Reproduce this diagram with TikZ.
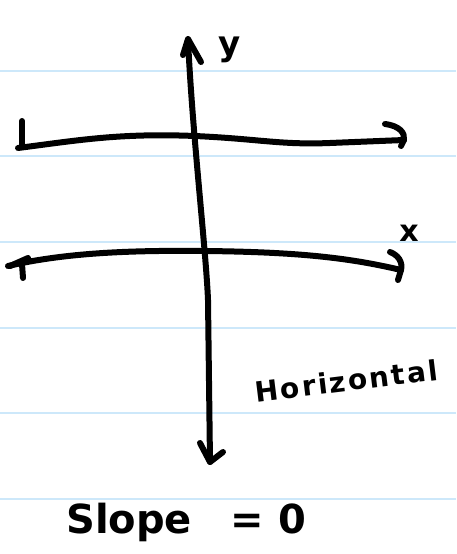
\documentclass[tikz,border=0pt]{standalone}
\usepackage{fontspec}
\setmainfont{DejaVu Sans}
\definecolor{ruled}{RGB}{205,232,250}
\begin{document}
\begin{tikzpicture}[x=1pt,y=-1pt,
  ink/.style={draw=black,line width=6pt,line cap=round,line join=round},
  rule/.style={draw=ruled,line width=2pt},
  hand/.style={inner sep=0pt}]
\useasboundingbox (0,0) rectangle (456,554);
\fill[white] (0,0) rectangle (456,554);
\foreach \yy in {71,156,242,328,413,499} \draw[rule] (0,\yy) -- (456,\yy);
% vertical axis
\coordinate (ytop) at (188,39);
\coordinate (ybot) at (210,462);
\draw[ink] (ytop) .. controls (192,130) and (206,250) .. (208,300) -- (ybot);
\draw[ink] (183,55) -- (ytop) -- (201,62);
\draw[ink] (200,443) -- (ybot) -- (223,452);
% upper horizontal line
\coordinate (aL) at (18,148);
\coordinate (aR) at (404,140);
\draw[ink] (aL) .. controls (80,140) and (120,133) .. (195,136) .. controls (260,139) and (280,145) .. (330,143) -- (aR);
\draw[ink] (22,121) -- (22,146);
\draw[ink] (385,124) .. controls (400,126) and (405,133) .. (aR) -- (401,146);
% lower horizontal line
\coordinate (bL) at (8,266);
\coordinate (bR) at (401,270);
\draw[ink] (bL) .. controls (60,254) and (120,250) .. (205,251) .. controls (300,252) and (350,258) .. (bR);
\draw[ink] (10,266) -- (28,258);
\draw[ink] (22,264) -- (23,278);
\draw[ink] (390,252) .. controls (398,255) and (403,262) .. (bR) -- (398,280);
% labels
\node[hand,font=\bfseries\fontsize{34}{36}\selectfont] (ylab) at (230,50) {y};
\node[hand,font=\bfseries\fontsize{30}{32}\selectfont] (xlab) at (409,233) {x};
\node[hand,font=\bfseries\fontsize{28}{30}\selectfont\addfontfeature{LetterSpace=8},rotate=7,anchor=west] (hz) at (255,392) {Horizontal};
\node[hand,font=\bfseries\fontsize{40}{42}\selectfont,anchor=west] (slope) at (66,522) {Slope \; = 0};
\end{tikzpicture}
\end{document}
